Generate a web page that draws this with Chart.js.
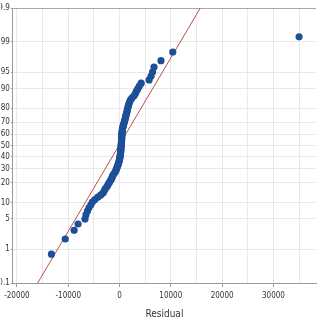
<!DOCTYPE html>
<html>
<head>
<meta charset="utf-8">
<script src="https://cdn.jsdelivr.net/npm/chart.js@4"></script>
<style>
html,body{margin:0;padding:0;background:#fff;}
#wrap{width:320px;height:320px;position:relative;}
</style>
</head>
<body>
<div id="wrap"><canvas id="c" width="320" height="320"></canvas></div>
<script>
// Residuals (sorted)
const residuals = [
 -13270,-10580,-8850,-8080,-6730,-6540,-6250,-5960,-5580,-5290,
 -4810,-4230,-3650,-3170,-2980,-2790,-2500,-2310,-2120,-1920,
 -1730,-1540,-1440,-1350,-1150,-960,-770,-670,-580,-480,
 -380,-290,-190,-130,-80,0,40,80,120,150,
 190,210,230,250,270,290,310,330,350,370,
 380,400,410,420,430,450,460,480,500,520,
 550,580,640,690,770,850,920,1000,1060,1150,
 1200,1250,1350,1420,1500,1560,1640,1730,1830,1960,
 2120,2400,2790,3080,3270,3560,3850,4230,5770,6150,
 6440,6730,8080,10380,35000
];
// Cumulative percent (plotting positions) for each point
const percents = [
 0.73,1.78,2.83,3.88,4.93,5.97,7.02,8.07,9.12,10.17,
 11.22,12.26,13.31,14.36,15.41,16.46,17.51,18.55,19.60,20.65,
 21.70,22.75,23.79,24.84,25.89,26.94,27.99,29.04,30.08,31.13,
 32.18,33.23,34.28,35.33,36.37,37.42,38.47,39.52,40.57,41.61,
 42.66,43.71,44.76,45.81,46.86,47.90,48.95,50.00,51.05,52.10,
 53.14,54.19,55.24,56.29,57.34,58.39,59.43,60.48,61.53,62.58,
 63.63,64.67,65.72,66.77,67.82,68.87,69.92,70.96,72.01,73.06,
 74.11,75.16,76.21,77.25,78.30,79.35,80.40,81.45,82.49,83.54,
 84.59,85.64,86.69,87.74,88.78,89.83,90.88,91.93,92.98,94.03,
 95.07,96.12,97.17,98.22,99.27
];
// Probability axis tick labels (percent)
const yTickPercents = [0.1,1,5,10,20,30,40,50,60,70,80,90,95,99,99.9];
const yTickLabels = ['0.1','1','5','10','20','30','40','50','60','70','80','90','95','99','99.9'];
// Fitted normal line
const fitMean = -100;
const fitStDev = 5130;
// X axis range / steps
const xMin = -20800, xMax = 38300, xGridStep = 5000, xLabelStep = 10000;

// inverse standard normal CDF (probability scale transform)
function probit(p){
  const a=[-3.969683028665376e+01,2.209460984245205e+02,-2.759285104469687e+02,1.383577518672690e+02,-3.066479806614716e+01,2.506628277459239e+00];
  const b=[-5.447609879822406e+01,1.615858368580409e+02,-1.556989798598866e+02,6.680131188771972e+01,-1.328068155288572e+01];
  const c=[-7.784894002430293e-03,-3.223964580411365e-01,-2.400758277161838e+00,-2.549732539343734e+00,4.374664141464968e+00,2.938163982698783e+00];
  const d=[7.784695709041462e-03,3.224671290700398e-01,2.445134137142996e+00,3.754408661907416e+00];
  const pl=0.02425, ph=1-pl; let q,r;
  if(p<pl){q=Math.sqrt(-2*Math.log(p));return (((((c[0]*q+c[1])*q+c[2])*q+c[3])*q+c[4])*q+c[5])/((((d[0]*q+d[1])*q+d[2])*q+d[3])*q+1);}
  if(p<=ph){q=p-0.5;r=q*q;return (((((a[0]*r+a[1])*r+a[2])*r+a[3])*r+a[4])*r+a[5])*q/(((((b[0]*r+b[1])*r+b[2])*r+b[3])*r+b[4])*r+1);}
  q=Math.sqrt(-2*Math.log(1-p));return -(((((c[0]*q+c[1])*q+c[2])*q+c[3])*q+c[4])*q+c[5])/((((d[0]*q+d[1])*q+d[2])*q+d[3])*q+1);
}

const zMin = probit(yTickPercents[0]/100), zMax = probit(yTickPercents[yTickPercents.length-1]/100);
const pts = residuals.map((r,i)=>({x:r, y:probit(percents[i]/100)}));
const fitLine = [{x:fitMean+fitStDev*zMin, y:zMin},{x:fitMean+fitStDev*zMax, y:zMax}];

const FONT = "'DejaVu Sans Condensed','DejaVu Sans',sans-serif";

new Chart(document.getElementById('c'), {
  type:'scatter',
  data:{datasets:[
    {label:'Fit', type:'line', data:fitLine, borderColor:'#b5524f', borderWidth:1, pointRadius:0, fill:false, order:2},
    {label:'Residual', data:pts, backgroundColor:'#1d4f98', borderColor:'#1d4f98', pointRadius:3.6, pointBorderWidth:0, order:1}
  ]},
  options:{
    responsive:false, animation:false,
    layout:{padding:{top:8,right:0,bottom:0,left:0}},
    plugins:{legend:{display:false}, tooltip:{enabled:false}},
    scales:{
      x:{
        type:'linear', min:xMin, max:xMax,
        afterBuildTicks:(s)=>{const t=[];for(let v=Math.ceil(xMin/xGridStep)*xGridStep; v<=xMax; v+=xGridStep) t.push({value:v}); s.ticks=t;},
        afterFit:(s)=>{s.height=37;},
        ticks:{autoSkip:false, maxRotation:0, padding:4, color:'#333', font:{family:FONT,size:8},
          callback:(v)=> (v % xLabelStep === 0) ? String(v) : ''},
        grid:{color:'#e9e9e9', lineWidth:1, tickLength:4,
          tickColor:(ctx)=> (ctx.tick && ctx.tick.value % xLabelStep === 0) ? '#9a9a9a' : 'rgba(0,0,0,0)'},
        border:{color:'#9a9a9a', width:1},
        title:{display:true, text:'Residual', color:'#333', font:{family:FONT,size:10}, padding:{top:0,bottom:0}}
      },
      y:{
        type:'linear', min:zMin, max:zMax,
        afterBuildTicks:(s)=>{s.ticks=yTickPercents.map(p=>({value:probit(p/100)}));},
        afterFit:(s)=>{s.width=12;},
        ticks:{autoSkip:false, padding:1, color:'#333', font:{family:FONT,size:8},
          callback:(v,i)=> yTickLabels[i]},
        grid:{lineWidth:1, tickLength:2, tickColor:'#9a9a9a',
          color:(ctx)=> (ctx.index === yTickPercents.length-1) ? '#a8a8a8' : '#e9e9e9'},
        border:{color:'#9a9a9a', width:1}
      }
    }
  }
});
</script>
</body>
</html>
